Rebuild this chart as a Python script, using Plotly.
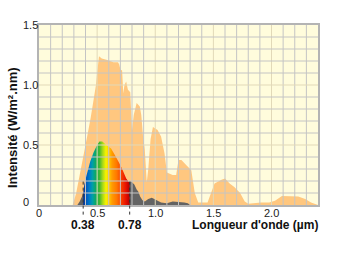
import numpy as np
import plotly.graph_objects as go

# ---- data ----
# Solar spectrum envelope (orange)
orange_x = [0.29, 0.32, 0.35, 0.39, 0.42, 0.445, 0.47, 0.49, 0.50, 0.516, 0.54, 0.58, 0.64, 0.68,
            0.69, 0.70, 0.715, 0.725, 0.735, 0.75, 0.765, 0.785, 0.80, 0.815, 0.84, 0.867, 0.88,
            0.895, 0.91, 0.92, 0.927, 0.94, 0.96, 0.98, 1.02, 1.05, 1.08, 1.10, 1.15, 1.18, 1.20,
            1.225, 1.27, 1.31, 1.34, 1.37, 1.45, 1.48, 1.51, 1.57, 1.60, 1.64, 1.68, 1.73, 1.77,
            1.80, 1.91, 1.98, 2.03, 2.09, 2.23, 2.29, 2.34, 2.40]
orange_y = [0.0, 0.1, 0.25, 0.45, 0.6, 0.73, 0.88, 1.0, 1.1, 1.24, 1.22, 1.21, 1.19, 1.19,
            1.17, 1.13, 1.12, 0.93, 1.0, 1.03, 0.96, 0.94, 0.62, 0.75, 0.85, 0.82, 0.75,
            0.57, 0.46, 0.3, 0.19, 0.3, 0.55, 0.65, 0.625, 0.57, 0.43, 0.27, 0.25, 0.25, 0.375,
            0.375, 0.33, 0.29, 0.1, 0.02, 0.02, 0.1, 0.18, 0.21, 0.22, 0.18, 0.15, 0.1, 0.03,
            0.01, 0.02, 0.02, 0.035, 0.075, 0.07, 0.05, 0.02, 0.0]

# Spectrum at ground level (dark gray)
gray_x = [0.33, 0.35, 0.37, 0.38, 0.78, 0.79, 0.80, 0.82, 0.84, 0.855, 0.87, 0.89, 0.91,
          0.94, 0.97, 1.00, 1.05, 1.10, 1.15, 1.20, 1.25, 1.28, 1.30]
gray_y = [0.0, 0.03, 0.07, 0.1, 0.19, 0.2, 0.19, 0.17, 0.13, 0.11, 0.07, 0.04, 0.03,
          0.05, 0.06, 0.045, 0.02, 0.015, 0.03, 0.025, 0.02, 0.015, 0.0]

# Visible part (rainbow)
vis_x = [0.38, 0.39, 0.41, 0.44, 0.47, 0.50, 0.52, 0.545, 0.58, 0.62, 0.65, 0.69, 0.72, 0.75, 0.775, 0.78]
vis_y = [0.1, 0.17, 0.25, 0.36, 0.44, 0.5, 0.53, 0.53, 0.5, 0.47, 0.42, 0.35, 0.29, 0.22, 0.19, 0.19]

x_tick_vals = [0, 0.5, 1.0, 1.5, 2.0]
x_tick_text = ["0", "0.5", "1.0", "1.5", "2.0"]
y_tick_vals = [0, 0.5, 1.0, 1.5]
y_tick_text = ["0", "0.5", "1.0", "1.5"]
visible_bounds = [0.38, 0.78]
visible_labels = ["0.38", "0.78"]

X_MAX = 2.4
Y_MAX = 1.5

rainbow = [[0.0, "#0a2f8c"], [0.05, "#0050b8"], [0.13, "#0078c8"], [0.2, "#009fa8"],
           [0.27, "#10a860"], [0.35, "#40b830"], [0.42, "#a8d818"], [0.49, "#f8f400"],
           [0.55, "#ffcc00"], [0.62, "#ff9c00"], [0.72, "#ff7800"], [0.82, "#f84000"],
           [0.92, "#e81000"], [1.0, "#b00000"]]

fig = go.Figure()
fig.add_trace(go.Scatter(x=orange_x, y=orange_y, mode="none", fill="tozeroy",
                         fillcolor="#FFC77F", hoverinfo="skip"))
fig.add_trace(go.Scatter(x=gray_x, y=gray_y, mode="none", fill="tozeroy",
                         fillcolor="#636363", hoverinfo="skip"))
fig.add_trace(go.Scatter(x=vis_x, y=vis_y, mode="none", fill="tozeroy",
                         fillgradient=dict(type="horizontal", colorscale=rainbow,
                                           start=visible_bounds[0], stop=visible_bounds[1]),
                         hoverinfo="skip"))

shapes = []
# grid drawn above the fills
for v in np.round(np.arange(0.1, X_MAX - 1e-9, 0.1), 2):
    major = abs(v / 0.5 - round(v / 0.5)) < 1e-6
    shapes.append(dict(type="line", xref="x", yref="y", x0=v, x1=v, y0=0, y1=Y_MAX,
                       layer="above", line=dict(color="#E2D9B8" if major else "#C4C4C4", width=1)))
for v in np.round(np.arange(0.1, Y_MAX - 1e-9, 0.1), 2):
    major = abs(v / 0.5 - round(v / 0.5)) < 1e-6
    shapes.append(dict(type="line", xref="x", yref="y", x0=0, x1=X_MAX, y0=v, y1=v,
                       layer="above", line=dict(color="#E2D9B8" if major else "#C4C4C4", width=1)))
# dotted markers of visible range
for b in visible_bounds:
    shapes.append(dict(type="line", xref="x", yref="paper", x0=b, x1=b,
                       y0=-0.08 / Y_MAX, y1=0.22 / Y_MAX, layer="above",
                       line=dict(color="#333333", width=1, dash="dot")))

annotations = []
for b, t in zip(visible_bounds, visible_labels):
    annotations.append(dict(x=b, y=-0.112, xref="x", yref="paper", text=t, showarrow=False,
                            xanchor="center", yanchor="middle",
                            font=dict(family="Liberation Sans", size=12, color="#111111", weight="bold")))
for v, t in zip(y_tick_vals, y_tick_text):
    annotations.append(dict(x=-0.0645, y=v, xref="paper", yref="y", text=t, showarrow=False,
                            xanchor="left", yanchor="middle", yshift=3 if v == 0 else 0,
                            font=dict(family="Liberation Sans", size=11, color="#222222")))
for v, t in zip(x_tick_vals, x_tick_text):
    annotations.append(dict(x=v, y=0, xref="x", yref="y", text=t, showarrow=False,
                            xanchor="center", yanchor="middle", yshift=-8,
                            font=dict(family="Liberation Sans", size=11, color="#222222")))
annotations.append(dict(x=1.008, y=-0.11, xref="paper", yref="paper", text="Longueur d'onde (µm)",
                        showarrow=False, xanchor="right", yanchor="middle",
                        font=dict(family="Liberation Sans", size=12, color="#111111", weight="bold")))
annotations.append(dict(x=-0.097, y=0.433, xref="paper", yref="paper", text="Intensité (W/m².nm)",
                        showarrow=False, xanchor="center", yanchor="middle", textangle=-90,
                        font=dict(family="Liberation Sans", size=13, color="#111111", weight="bold")))

fig.update_layout(
    width=337, height=268, autosize=False,
    margin=dict(l=39, r=19, t=25, b=63),
    paper_bgcolor="white", plot_bgcolor="#FFFCDC",
    showlegend=False,
    shapes=shapes, annotations=annotations,
    xaxis=dict(range=[0, X_MAX], tickvals=x_tick_vals, showticklabels=False,
               showgrid=False, zeroline=False, showline=True, mirror=True,
               linecolor="#B4B4B4", linewidth=2, ticks=""),
    yaxis=dict(range=[0, Y_MAX], tickvals=y_tick_vals, showticklabels=False,
               showgrid=False, zeroline=False, showline=True, mirror=True,
               linecolor="#B4B4B4", linewidth=2, ticks=""),
)

fig.write_html("out.html")
